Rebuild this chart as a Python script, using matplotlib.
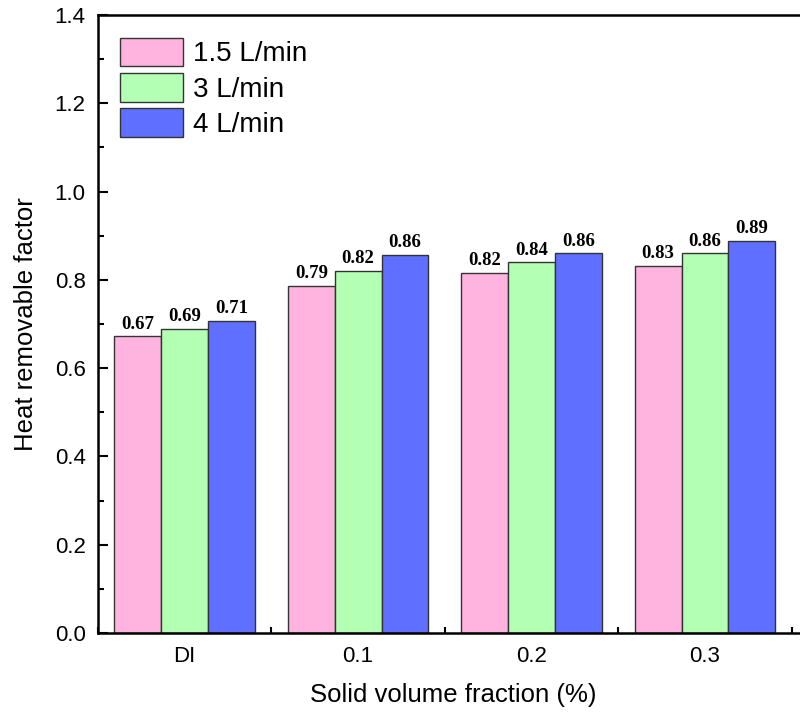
import numpy as np
import matplotlib.pyplot as plt
from matplotlib.ticker import MultipleLocator

# Data
categories = ["DI", "0.1", "0.2", "0.3"]
flow_labels = ["1.5 L/min", "3 L/min", "4 L/min"]
hrf_15 = [0.672, 0.787, 0.816, 0.832]
hrf_3 = [0.689, 0.821, 0.840, 0.860]
hrf_4 = [0.707, 0.857, 0.860, 0.889]

colors = ["#FFB3DE", "#B3FFB3", "#5F6FFF"]
sans = ["Liberation Sans", "DejaVu Sans"]
serif = ["Liberation Serif", "DejaVu Serif"]

fig = plt.figure(figsize=(8, 7.12), dpi=100)
# axes runs slightly past the right edge (original is cropped)
ax = fig.add_axes([98 / 800, (712 - 633) / 712, 711 / 800, 618 / 712])

x = np.arange(len(categories))
w = 0.27
series = [hrf_15, hrf_3, hrf_4]
for i, vals in enumerate(series):
    pos = x + (i - 1) * w
    bars = ax.bar(pos, vals, width=w, color=colors[i], edgecolor="#333333",
                  linewidth=1.0, label=flow_labels[i], zorder=2)
    for b, v in zip(bars, vals):
        ax.text(b.get_x() + b.get_width() / 2, v + 0.008, f"{v:.2f}",
                ha="center", va="bottom", fontsize=13.5, fontweight="bold",
                family=serif)

ax.set_xlim(-0.5, 3.6)
ax.set_ylim(0, 1.4)
ax.set_xticks(x)
ax.set_xticklabels(categories, family=sans)
ax.xaxis.set_minor_locator(MultipleLocator(1.0, offset=0.5))
ax.yaxis.set_major_locator(MultipleLocator(0.2))
ax.yaxis.set_minor_locator(MultipleLocator(0.1))
ax.set_yticklabels([f"{t:.1f}" for t in ax.get_yticks()], family=sans)

ax.tick_params(which="both", direction="in", width=1.5, labelsize=16)
ax.tick_params(which="major", length=7, pad=9)
ax.tick_params(which="minor", length=4)
ax.tick_params(axis="x", which="both", top=False)
ax.tick_params(axis="y", which="both", right=False)
for s in ax.spines.values():
    s.set_linewidth(1.8)

ax.set_xlabel("Solid volume fraction (%)", fontsize=18.5, family=sans, labelpad=12)
ax.set_ylabel("Heat removable factor", fontsize=18.5, family=sans, labelpad=12)

leg = ax.legend(loc="upper left", bbox_to_anchor=(0.031, 0.963), frameon=False,
                prop={"family": sans, "size": 20}, handlelength=2.27,
                handleheight=1.2, labelspacing=0.2, handletextpad=0.36,
                borderaxespad=0, borderpad=0)
for p in leg.get_patches():
    p.set_edgecolor("#333333")

fig.savefig("out.png", dpi=100)
